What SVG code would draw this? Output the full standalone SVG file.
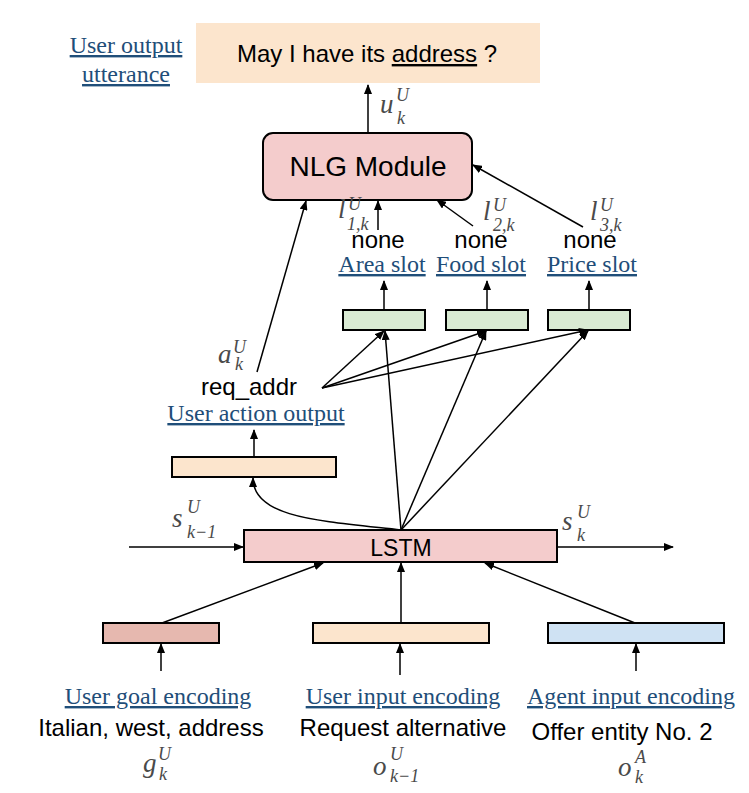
<svg xmlns="http://www.w3.org/2000/svg" width="749" height="793" viewBox="0 0 749 793">
<style>
.sans{font-family:"Liberation Sans",Arial,sans-serif;fill:#000}
.lbl{font-family:"Liberation Serif","Times New Roman",serif;font-size:24px;fill:#1f4e79;text-decoration:underline}
.m{font-family:"Liberation Serif","Times New Roman",serif;font-style:italic;fill:#4a4a4a}
.mb{font-size:27px}
.ms{font-size:18px}
.box{stroke:#000;stroke-width:2}
.c{stroke:#000;stroke-width:1.5;fill:none;marker-end:url(#ah)}
</style>
<defs>
<marker id="ah" markerUnits="userSpaceOnUse" markerWidth="10" markerHeight="8" refX="9" refY="4" orient="auto">
<path d="M0,0 L10,4 L0,8 z" fill="#000"/>
</marker>
</defs>
<rect width="749" height="793" fill="#fff"/>

<g id="utterance">
<rect x="196" y="23" width="344" height="60" fill="#fce5cd"/>
<text class="sans" x="237" y="62" font-size="24">May I have its <tspan text-decoration="underline">address</tspan> ?</text>
</g>
<g id="utterance-label">
<text class="lbl" x="126" y="53" text-anchor="middle">User output</text>
<text class="lbl" x="126" y="82" text-anchor="middle">utterance</text>
</g>

<g id="nlg">
<rect class="box" x="263" y="133" width="209" height="67" rx="10" fill="#f4cccc" stroke-width="1.5"/>
<text class="sans" x="368" y="176" font-size="28" text-anchor="middle">NLG Module</text>
</g>

<g id="slot-area">
<rect class="box" x="343" y="310" width="82" height="20" fill="#d9ead3"/>
<text class="sans" x="378" y="248" font-size="24" text-anchor="middle">none</text>
<text class="lbl" x="382" y="272" text-anchor="middle">Area slot</text>
</g>
<g id="slot-food">
<rect class="box" x="446" y="310" width="82" height="20" fill="#d9ead3"/>
<text class="sans" x="481" y="248" font-size="24" text-anchor="middle">none</text>
<text class="lbl" x="481" y="272" text-anchor="middle">Food slot</text>
</g>
<g id="slot-price">
<rect class="box" x="548" y="310" width="82" height="20" fill="#d9ead3"/>
<text class="sans" x="590" y="248" font-size="24" text-anchor="middle">none</text>
<text class="lbl" x="592" y="272" text-anchor="middle">Price slot</text>
</g>

<g id="action">
<rect class="box" x="172" y="457" width="164" height="20" fill="#fce5cd"/>
<text class="sans" x="249" y="395" font-size="24" text-anchor="middle">req_addr</text>
<text class="lbl" x="256" y="421" text-anchor="middle">User action output</text>
</g>

<g id="lstm">
<rect class="box" x="244" y="530" width="313" height="32" fill="#f4cccc"/>
<text class="sans" x="401" y="556" font-size="23" text-anchor="middle">LSTM</text>
</g>

<g id="goal">
<rect class="box" x="103" y="623" width="116" height="20" fill="#e6b8af"/>
<text class="lbl" x="158" y="704" text-anchor="middle">User goal encoding</text>
<text class="sans" x="151" y="736" font-size="24" text-anchor="middle">Italian, west, address</text>
</g>
<g id="userinput">
<rect class="box" x="313" y="623" width="176" height="20" fill="#fce5cd"/>
<text class="lbl" x="403" y="704" text-anchor="middle">User input encoding</text>
<text class="sans" x="403" y="736" font-size="24" text-anchor="middle">Request alternative</text>
</g>
<g id="agentinput">
<rect class="box" x="548" y="623" width="176" height="20" fill="#cfe2f3"/>
<text class="lbl" x="631" y="704" text-anchor="middle">Agent input encoding</text>
<text class="sans" x="622" y="740" font-size="24" text-anchor="middle">Offer entity No. 2</text>
</g>

<g id="math">
<text class="m"><tspan class="mb" x="380" y="113">u</tspan><tspan class="ms" x="396" y="101">U</tspan><tspan class="ms" x="397" y="124">k</tspan></text>
<text class="m"><tspan class="mb" x="338" y="218">l</tspan><tspan class="ms" x="348" y="210">U</tspan><tspan class="ms" x="347" y="230">1,k</tspan></text>
<text class="m"><tspan class="mb" x="483" y="220">l</tspan><tspan class="ms" x="493" y="211">U</tspan><tspan class="ms" x="493" y="231">2,k</tspan></text>
<text class="m"><tspan class="mb" x="590" y="220">l</tspan><tspan class="ms" x="600" y="211">U</tspan><tspan class="ms" x="600" y="231">3,k</tspan></text>
<text class="m"><tspan class="mb" x="218" y="363">a</tspan><tspan class="ms" x="233" y="353">U</tspan><tspan class="ms" x="235" y="370">k</tspan></text>
<text class="m"><tspan class="mb" x="172" y="527">s</tspan><tspan class="ms" x="187" y="513">U</tspan><tspan class="ms" x="187" y="538">k−1</tspan></text>
<text class="m"><tspan class="mb" x="562" y="530">s</tspan><tspan class="ms" x="577" y="518">U</tspan><tspan class="ms" x="577" y="541">k</tspan></text>
<text class="m"><tspan class="mb" x="143" y="772">g</tspan><tspan class="ms" x="158" y="760">U</tspan><tspan class="ms" x="159" y="780">k</tspan></text>
<text class="m"><tspan class="mb" x="373" y="775">o</tspan><tspan class="ms" x="390" y="760">U</tspan><tspan class="ms" x="390" y="782">k−1</tspan></text>
<text class="m"><tspan class="mb" x="618" y="776">o</tspan><tspan class="ms" x="635" y="763">A</tspan><tspan class="ms" x="635" y="783">k</tspan></text>
</g>

<g id="connectors">
<path class="c" d="M368,132 L368,85"/>
<path class="c" d="M257,372 L306,201"/>
<path class="c" d="M378,230 L378,201"/>
<path class="c" d="M473,226 L437,200"/>
<path class="c" d="M583,227 L473,165"/>
<path class="c" d="M384,310 L384,281"/>
<path class="c" d="M487,310 L487,281"/>
<path class="c" d="M589,310 L589,281"/>
<path class="c" d="M322,388 L384,331"/>
<path class="c" d="M322,388 L486,331"/>
<path class="c" d="M322,388 L588,330"/>
<path class="c" d="M401,530 L385,331"/>
<path class="c" d="M401,530 L486,331"/>
<path class="c" d="M401,530 L588,331"/>
<path class="c" d="M401,530 C320,521 253,518 253,478"/>
<path class="c" d="M254,457 L254,430"/>
<path class="c" d="M129,547 L243,547"/>
<path class="c" d="M557,547 L673,547"/>
<path class="c" d="M162,623 L323,563"/>
<path class="c" d="M401,623 L401,563"/>
<path class="c" d="M635,623 L485,563"/>
<path class="c" d="M161,671 L161,644"/>
<path class="c" d="M400,675 L400,644"/>
<path class="c" d="M636,671 L636,644"/>
</g>
</svg>
